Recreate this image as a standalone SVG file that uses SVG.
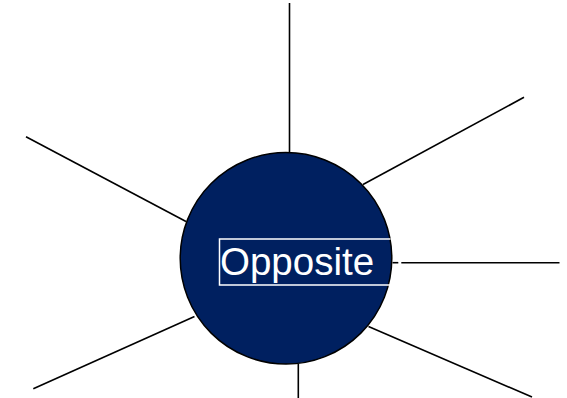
<svg xmlns="http://www.w3.org/2000/svg" width="567" height="398" viewBox="0 0 567 398">
<style>
.c{stroke:#000;stroke-width:1.6;fill:none}
.lbl{font-family:"Liberation Sans",Arial,sans-serif;font-size:38.5px;fill:#fff}
</style>
<rect width="567" height="398" fill="#fff"/>
<g id="connectors">
<line class="c" x1="289.5" y1="3" x2="289.5" y2="153"/>
<line class="c" x1="363" y1="184.5" x2="524" y2="97.3"/>
<line class="c" x1="26" y1="136.7" x2="186" y2="221.5"/>
<line class="c" x1="33.3" y1="388.7" x2="194.5" y2="316.5"/>
<line class="c" x1="368.5" y1="326.5" x2="532" y2="397"/>
<line class="c" x1="298.3" y1="364" x2="298.3" y2="398"/>
<line class="c" x1="392.5" y1="262.7" x2="398.3" y2="262.7"/>
<line class="c" x1="401.3" y1="262.7" x2="559.5" y2="262.7"/>
</g>
<g id="node-opposite">
<circle cx="286" cy="258.3" r="105.8" fill="#002060" stroke="#000" stroke-width="1.5"/>
<path d="M390.5,239 H219.5 V285 H390" fill="none" stroke="#fff" stroke-width="1.5"/>
<text class="lbl" x="220" y="275">Opposite</text>
</g>
</svg>
